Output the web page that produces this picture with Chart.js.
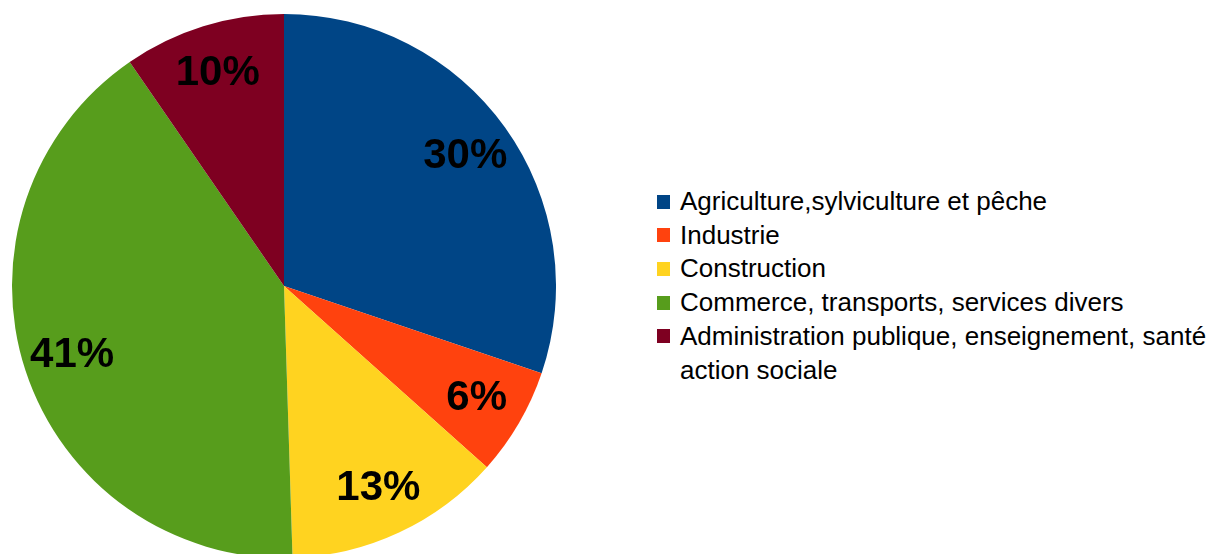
<!DOCTYPE html>
<html>
<head>
<meta charset="utf-8">
<script src="https://cdn.jsdelivr.net/npm/chart.js@4/dist/chart.umd.min.js"></script>
<style>
    html, body { margin: 0; padding: 0; background: #fff; overflow: hidden; }
    body { width: 1211px; height: 554px; position: relative; }
    #pieWrap { position: absolute; left: 12px; top: 14px; width: 544px; height: 544px; }
    #legende { position: absolute; left: 657px; top: 185px; font-family: "Liberation Sans", Arial, sans-serif; font-size: 26px; color: #000; }
    #legende .item { position: relative; padding-left: 23px; line-height: 33.7px; width: 560px; white-space: nowrap; }
    #legende .item span.box { position: absolute; left: 0; top: 9.5px; width: 13px; height: 14px; }
</style>
</head>
<body>
<div id="pieWrap"><canvas id="secteursChart" width="544" height="544"></canvas></div>
<div id="legende"></div>
<script>
const categories = [
    'Agriculture,sylviculture et pêche',
    'Industrie',
    'Construction',
    'Commerce, transports, services divers',
    'Administration publique, enseignement, santé action sociale'
];
const valeurs = [30.2, 6.4, 12.9, 40.9, 9.6];
const etiquettes = ['30%', '6%', '13%', '41%', '10%'];
const couleurs = ['#004586', '#ff420e', '#ffd320', '#579d1c', '#7e0021'];

// etiquettes de pourcentage dans les parts
const pourcentages = {
    id: 'pourcentages',
    afterDatasetsDraw(chart) {
        const ctx = chart.ctx;
        const meta = chart.getDatasetMeta(0);
        ctx.save();
        ctx.font = 'bold 42px "Liberation Sans", Arial, sans-serif';
        ctx.fillStyle = '#000';
        ctx.textAlign = 'center';
        ctx.textBaseline = 'middle';
        meta.data.forEach((arc, i) => {
            const angle = (arc.startAngle + arc.endAngle) / 2;
            const r = arc.outerRadius * 0.82;
            ctx.fillText(etiquettes[i], arc.x + Math.cos(angle) * r, arc.y + Math.sin(angle) * r);
        });
        ctx.restore();
    }
};

new Chart(document.getElementById('secteursChart').getContext('2d'), {
    type: 'pie',
    data: {
        labels: categories,
        datasets: [{
            data: valeurs,
            backgroundColor: couleurs,
            borderWidth: 0
        }]
    },
    options: {
        responsive: false,
        animation: false,
        layout: { padding: 0 },
        plugins: {
            legend: { display: false },
            tooltip: { enabled: false }
        }
    },
    plugins: [pourcentages]
});

const legende = document.getElementById('legende');
categories.forEach((nom, i) => {
    const texte = i === 4 ? 'Administration publique, enseignement, santé<br>action sociale' : nom;
    legende.innerHTML += `<div class="item"><span class="box" style="background:${couleurs[i]}"></span>${texte}</div>`;
});
</script>
</body>
</html>
